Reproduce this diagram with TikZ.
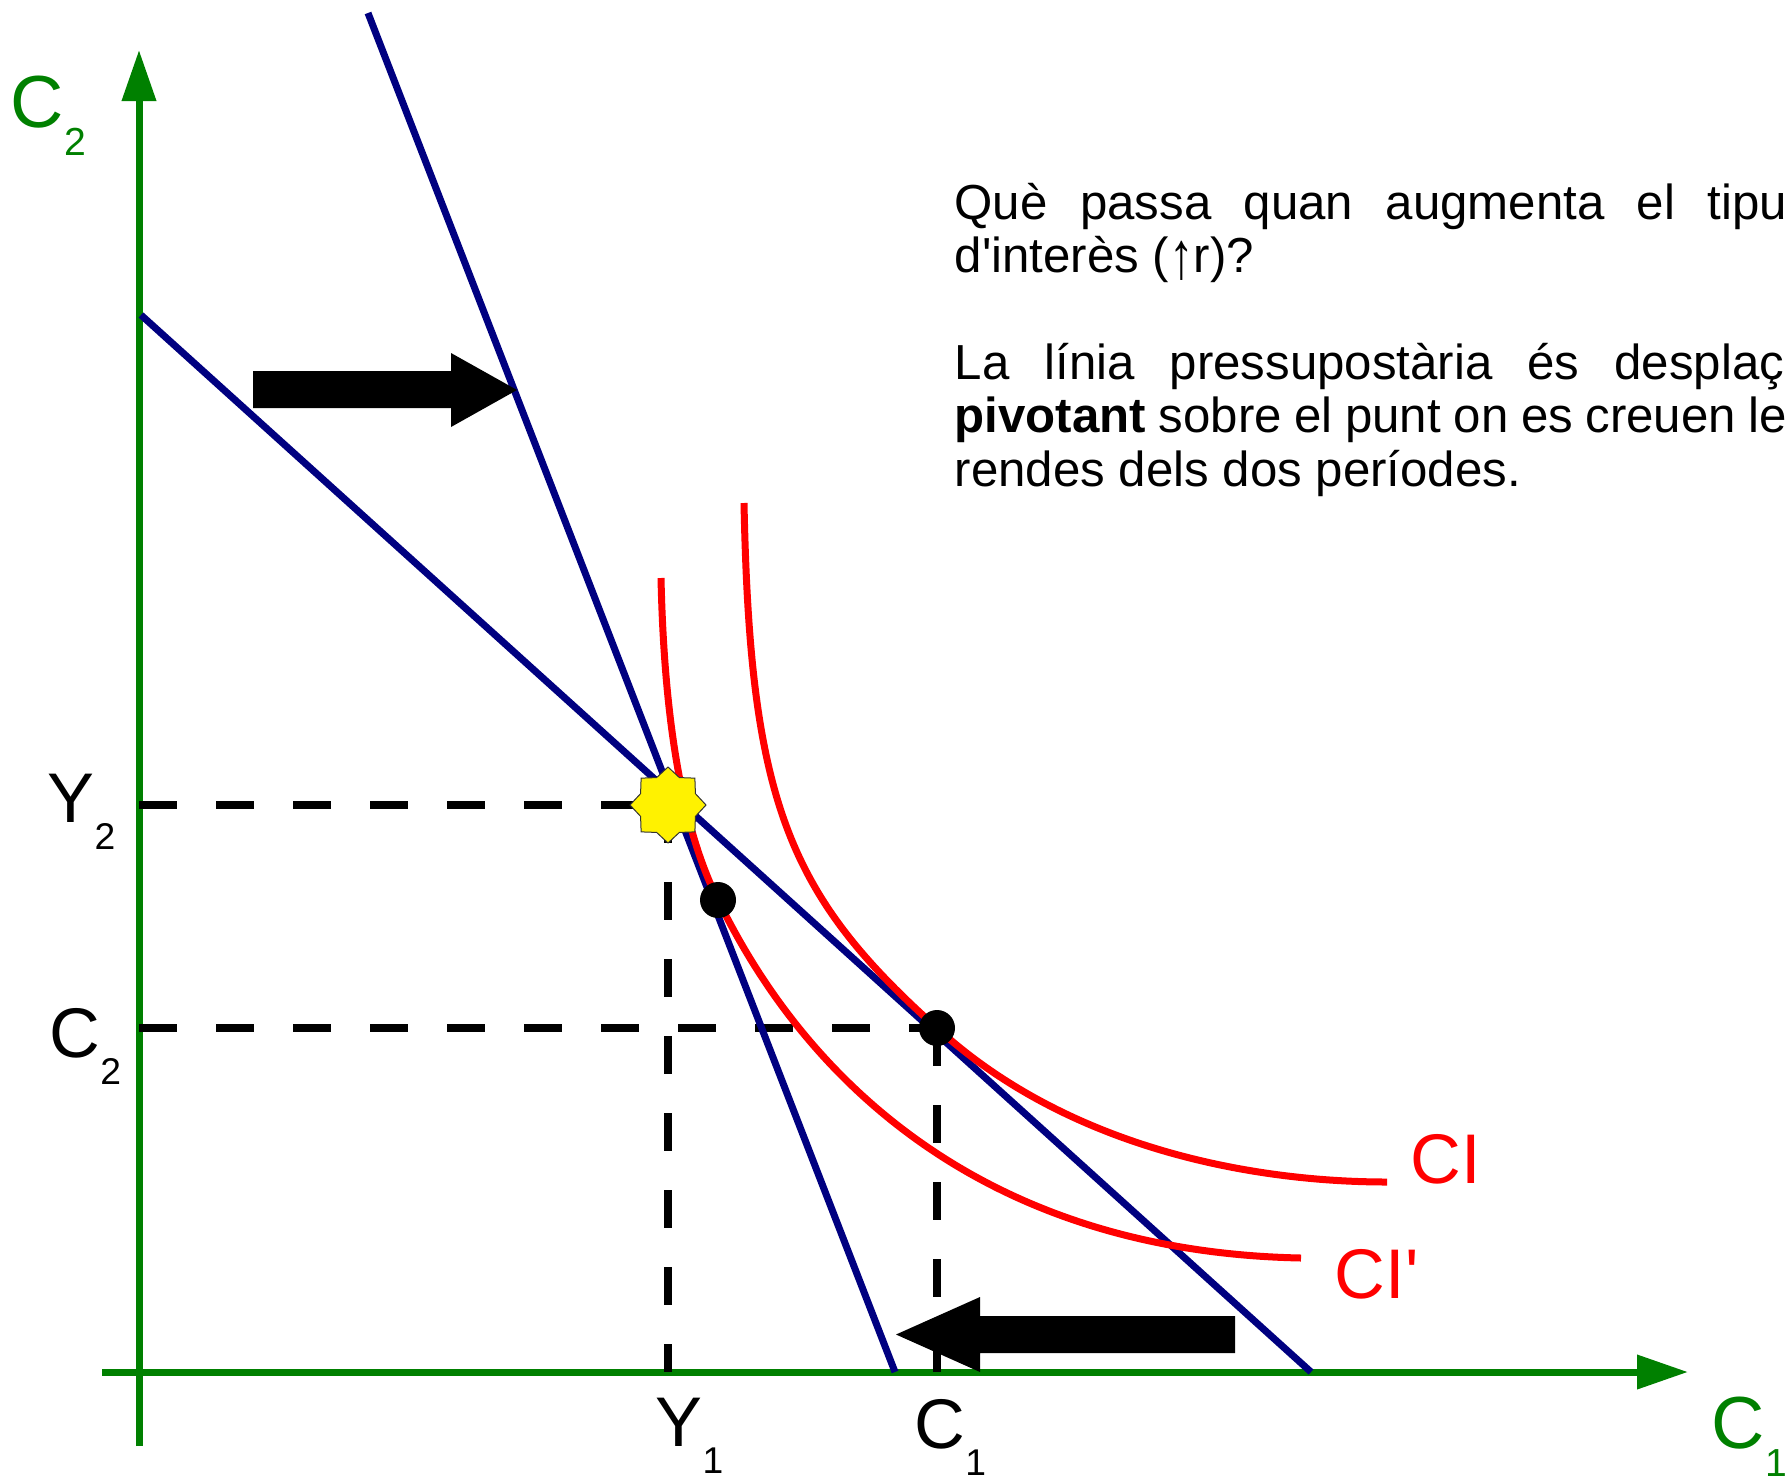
\documentclass[tikz,border=0pt]{standalone}
\usepackage{fontspec}
\setmainfont{Liberation Sans}[Ligatures=TeXOff]
\usetikzlibrary{shapes.geometric, arrows.meta, positioning, calc}
\usepackage{xcolor}
\definecolor{axisGreen}{RGB}{0, 128, 0}
\definecolor{budgetBlue}{RGB}{0, 0, 128}
\definecolor{curveRed}{RGB}{255, 0, 0}
\newcommand{\lblsub}[2]{#1\raisebox{-0.39em}{\scalebox{0.53}{#2}}}
\newcommand{\uparr}{\raisebox{-0.12em}{\scalebox{1}[1.35]{↑}}}

\begin{document}
\begin{tikzpicture}[
        x=0.1mm, y=-0.1mm,
        axisLine/.style={-{Triangle[length=5.1mm, width=3.3mm]}, line width=0.7mm, axisGreen},
        budgetLine/.style={line width=0.7mm, budgetBlue},
        icCurve/.style={line width=0.7mm, curveRed},
        guideLine/.style={line width=0.75mm, black, dash pattern=on 3.8mm off 3.9mm},
        axisLabel/.style={anchor=base west, inner sep=0, text=axisGreen, font=\fontsize{21}{21}\selectfont},
        valLabel/.style={anchor=base west, inner sep=0, font=\fontsize{20}{20}\selectfont},
        icLabel/.style={anchor=base west, inner sep=0, text=curveRed, font=\fontsize{20}{20}\selectfont},
        optDot/.style={circle, fill=black, minimum size=3.6mm, inner sep=0},
        pivotStar/.style={star, star points=8, star point ratio=1.28, minimum size=7.6mm, inner sep=0, fill=yellow, draw=black!80, line width=0.1mm},
        shiftArrow/.style={fill=black}
    ]
        \useasboundingbox (0,0) rectangle (1785,1479);
        \clip (0,0) rectangle (1785,1479);

        \coordinate (O) at (139,1372);
        \coordinate (yStart) at (139,1446);
        \coordinate (yEnd) at (139,50);
        \coordinate (xStart) at (102,1372);
        \coordinate (xEnd) at (1688,1372);
        \coordinate (pivotPt) at (668,805);
        \coordinate (oldOptPt) at (937,1028);
        \coordinate (newOptPt) at (718,900);

        \draw[axisLine] (yStart) -- (yEnd);
        \draw[axisLine] (xStart) -- (xEnd);

        \draw[guideLine] (O |- pivotPt) -- (pivotPt);
        \draw[guideLine] (pivotPt) -- (pivotPt |- O);
        \draw[guideLine] (O |- oldOptPt) -- (oldOptPt);
        \draw[guideLine] (oldOptPt) -- (oldOptPt |- O);

        \coordinate (oldTop) at (141,315);
        \coordinate (oldEnd) at (1311,1372);
        \coordinate (newTop) at (368,13);
        \coordinate (newEnd) at (895,1372);
        \draw[budgetLine] (oldTop) -- (oldEnd);
        \draw[budgetLine] (newTop) -- (newEnd);

        \draw[icCurve] (744,503) .. controls (750,800) and (787,894) .. (oldOptPt) .. controls (1067,1147) and (1250,1182) .. (1387,1182);
        \draw[icCurve] (661,578) .. controls (665,760) and (693,850) .. (newOptPt) .. controls (758,980) and (900,1250) .. (1301,1258);

        \fill[shiftArrow] (253,371) -- (451,371) -- (451,353) -- (517,390) -- (451,427) -- (451,408) -- (253,408) -- cycle;
        \fill[shiftArrow] (1235,1316) -- (980,1316) -- (980,1297) -- (896,1334.5) -- (980,1372) -- (980,1353) -- (1235,1353) -- cycle;

        \node[pivotStar] (pivot) at (pivotPt) {};
        \node[optDot] (newOpt) at (newOptPt) {};
        \node[optDot] (oldOpt) at (oldOptPt) {};

        \node[axisLabel] (c2Axis) at (10,127) {\lblsub{C}{2}};
        \node[axisLabel] (c1Axis) at (1711,1448) {\lblsub{C}{1}};
        \node[valLabel] (y2Lbl) at (47,822) {\lblsub{Y}{2}};
        \node[valLabel] (c2Lbl) at (49,1057) {\lblsub{C}{2}};
        \node[valLabel] (y1Lbl) at (655,1446) {\lblsub{Y}{1}};
        \node[valLabel] (c1Lbl) at (914,1448) {\lblsub{C}{1}};
        \node[icLabel] (ciLbl) at (1410,1183) {CI};
        \node[icLabel] (ciPrLbl) at (1334,1298) {CI'};

        \node[anchor=base west, inner sep=0, font=\fontsize{14}{15.2}\selectfont] (question) at (954,219) {\parbox[t]{85.7mm}{%
            \makebox[85.7mm][s]{Què passa quan augmenta el tipus}\\
            d'interès (\uparr r)?\\[15.2pt]
            \makebox[85.7mm][s]{La línia pressupostària és desplaça}\\
            \makebox[85.7mm][s]{\textbf{pivotant} sobre el punt on es creuen les}\\
            rendes dels dos períodes.}};
    \end{tikzpicture}
\end{document}
